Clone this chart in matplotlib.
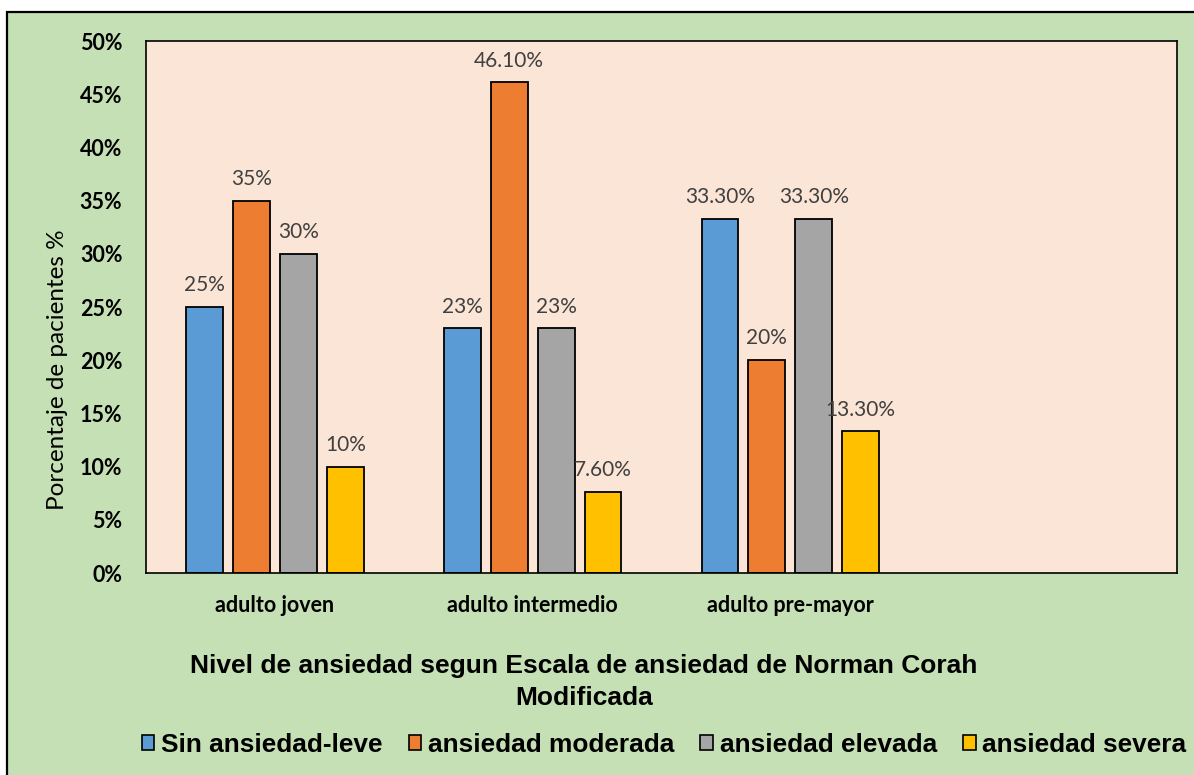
import numpy as np
import matplotlib.pyplot as plt
from matplotlib.patches import Rectangle, Patch
from matplotlib.ticker import PercentFormatter, MultipleLocator

# Datos
categorias = ['adulto joven', 'adulto intermedio', 'adulto pre-mayor', '']
series = ['Sin ansiedad-leve', 'ansiedad moderada', 'ansiedad elevada', 'ansiedad severa']
sin_ansiedad = [0.25, 0.23, 0.333, np.nan]
moderada = [0.35, 0.461, 0.20, np.nan]
elevada = [0.30, 0.23, 0.333, np.nan]
severa = [0.10, 0.076, 0.133, np.nan]
etiquetas = [
    ['25%', '23%', '33.30%', ''],
    ['35%', '46.10%', '20%', ''],
    ['30%', '23%', '33.30%', ''],
    ['10%', '7.60%', '13.30%', ''],
]
colores = ['#5B9BD5', '#ED7D31', '#A5A5A5', '#FFC000']

W, H = 1194, 775
fig = plt.figure(figsize=(W / 100, H / 100), dpi=100)
fig.patch.set_facecolor('white')

# Fondo verde con borde
fondo = Rectangle((7 / W, -0.01), 1.05, 1 - 12 / H + 0.01, transform=fig.transFigure,
                  facecolor='#C5E0B4', edgecolor='black', linewidth=1.6, zorder=-10)
fig.patches.append(fondo)

ax = fig.add_axes([146 / W, (H - 573) / H, (1177 - 146) / W, (573 - 41) / H])
ax.set_facecolor('#FBE5D6')

x = np.arange(len(categorias))
paso = 0.182
ancho = 0.143
valores = [sin_ansiedad, moderada, elevada, severa]
for i, (vals, col) in enumerate(zip(valores, colores)):
    pos = x + (i - 1.5) * paso
    bars = ax.bar(pos, vals, width=ancho, color=col, edgecolor='black', linewidth=1.3,
                  label=series[i], zorder=2)
    for b, txt in zip(bars, etiquetas[i]):
        if txt:
            ax.text(b.get_x() + b.get_width() / 2, b.get_height() + 0.011, txt,
                    ha='center', va='bottom', fontsize=15, color='#404040', family='Lato')

ax.set_xlim(-0.5, 3.5)
ax.set_ylim(0, 0.5)
ax.yaxis.set_major_locator(MultipleLocator(0.05))
ax.yaxis.set_major_formatter(PercentFormatter(1.0, decimals=0))
ax.set_xticks(x)
ax.set_xticklabels(categorias)
ax.tick_params(axis='y', length=0, pad=17)
ax.tick_params(axis='x', length=0, pad=16)
for lab in ax.get_yticklabels() + ax.get_xticklabels():
    lab.set_fontweight('bold')
    lab.set_fontsize(15.5)
    lab.set_family('Lato')
for sp in ax.spines.values():
    sp.set_linewidth(1.2)
    sp.set_color('black')

# Etiqueta del eje y (desplazada hacia abajo como en el original)
fig.text(58 / W, 1 - 370 / H, 'Porcentaje de pacientes %', rotation=90,
         ha='center', va='center', fontsize=17.5, family='Lato')

fig.text(584 / W, 1 - 682 / H, 'Nivel de ansiedad segun Escala de ansiedad de Norman Corah\nModificada',
         ha='center', va='center', fontsize=19, fontweight='bold', family='Liberation Sans',
         linespacing=1.4)

handles = [Patch(facecolor=c, edgecolor='black', linewidth=1.2) for c in colores]
fig.legend(handles, series, loc='center', bbox_to_anchor=(664 / W, 1 - 745 / H), ncol=4,
           frameon=False, handlelength=0.48, handleheight=0.48, handletextpad=0.25,
           columnspacing=1.0, borderpad=0, borderaxespad=0,
           prop={'family': 'Liberation Sans', 'weight': 'bold', 'size': 18.9})

fig.savefig('out.png', dpi=100)
